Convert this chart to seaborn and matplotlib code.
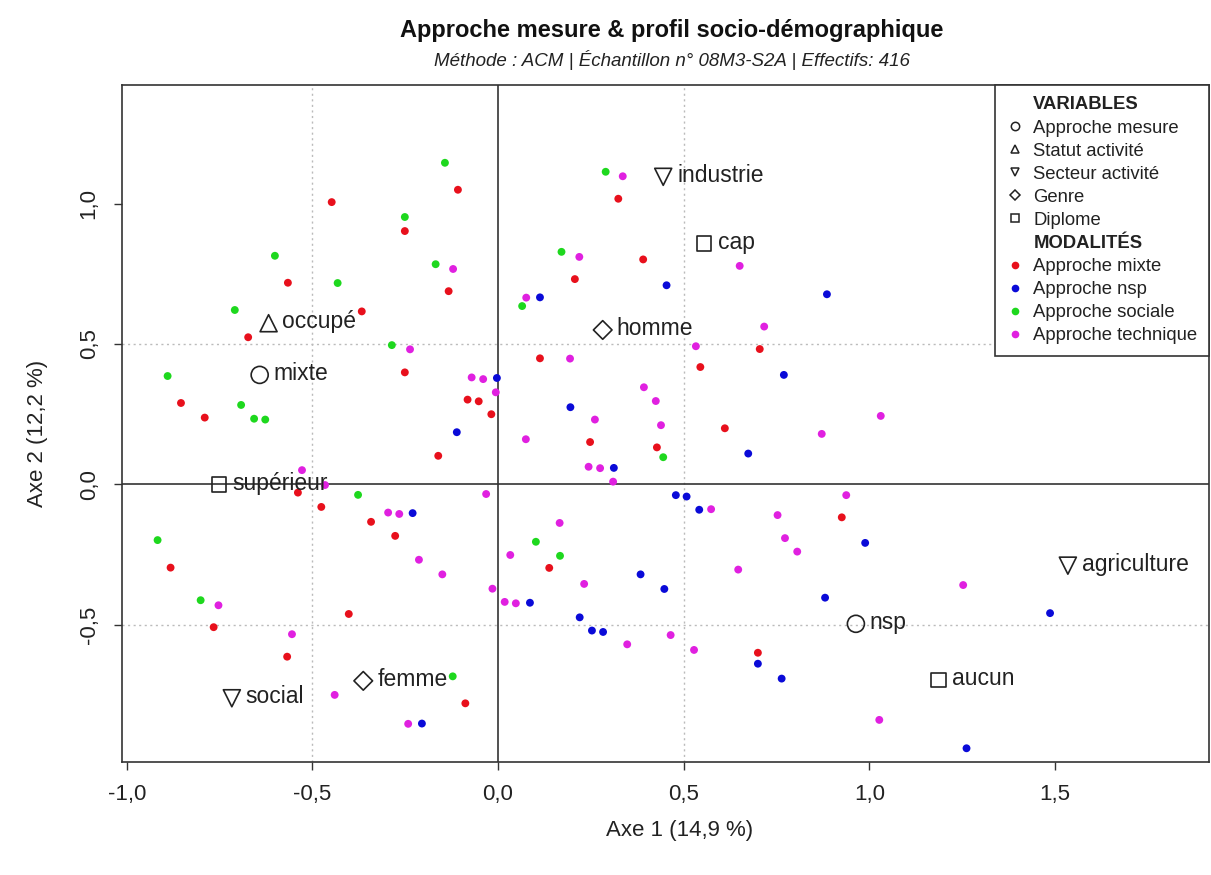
import numpy as np
import pandas as pd
import matplotlib
matplotlib.use("Agg")
import matplotlib.pyplot as plt
from matplotlib.lines import Line2D
import seaborn as sns

# ---------------- data ----------------
mixte_x = [-0.448, -0.566, -0.367, -0.108, -0.251, -0.133, 0.324, 0.391, 0.207, -0.673,
           -0.854, -0.790, -0.539, -0.476, -0.342, -0.277, -0.251, -0.082, -0.052, -0.018,
           -0.161, 0.113, 0.248, 0.428, 0.705, 0.545, 0.611, 0.926, -0.882, -0.766,
           -0.568, -0.402, 0.138, -0.088, 0.700]
mixte_y = [1.005, 0.718, 0.616, 1.049, 0.902, 0.688, 1.017, 0.801, 0.731, 0.524,
           0.290, 0.238, -0.029, -0.080, -0.133, -0.183, 0.399, 0.302, 0.296, 0.250,
           0.102, 0.449, 0.151, 0.132, 0.482, 0.418, 0.200, -0.117, -0.296, -0.508,
           -0.613, -0.461, -0.297, -0.779, -0.599]

nsp_x = [0.454, 0.113, 0.886, -0.003, -0.111, 0.195, 0.312, 0.479, -0.230, 0.770,
         0.674, 0.508, 0.542, 0.989, 0.384, 0.448, 0.086, 0.220, 0.253, 0.283,
         -0.205, 0.881, 0.700, 0.764, 1.487, 1.262]
nsp_y = [0.709, 0.666, 0.677, 0.379, 0.186, 0.275, 0.059, -0.038, -0.102, 0.390,
         0.110, -0.043, -0.090, -0.208, -0.320, -0.372, -0.421, -0.473, -0.520, -0.525,
         -0.851, -0.403, -0.638, -0.691, -0.458, -0.939]

sociale_x = [-0.143, -0.251, -0.601, -0.432, -0.709, -0.168, 0.290, 0.171, 0.065, -0.286,
             -0.890, -0.692, -0.657, -0.627, -0.377, -0.917, -0.801, 0.445, 0.102, 0.167,
             -0.122]
sociale_y = [1.145, 0.952, 0.814, 0.717, 0.621, 0.784, 1.113, 0.828, 0.635, 0.496,
             0.386, 0.283, 0.234, 0.231, -0.037, -0.198, -0.412, 0.097, -0.204, -0.254,
             -0.683]

tech_x = [0.336, -0.121, 0.219, 0.076, 0.651, -0.528, -0.466, -0.296, -0.266, -0.237,
          -0.071, -0.040, -0.006, 0.075, 0.194, 0.261, 0.244, 0.275, 0.310, 0.393,
          0.425, 0.439, -0.032, 0.166, 0.717, 0.533, 1.031, 0.872, 0.574, 0.938,
          0.753, 0.773, 0.806, 0.647, -0.753, -0.555, -0.440, -0.213, -0.150, -0.015,
          0.033, 0.232, 0.018, 0.048, 0.348, 0.465, -0.242, 0.528, 1.027, 1.253]
tech_y = [1.097, 0.767, 0.810, 0.665, 0.778, 0.051, -0.002, -0.100, -0.105, 0.481,
          0.381, 0.375, 0.328, 0.161, 0.448, 0.231, 0.063, 0.058, 0.010, 0.346,
          0.297, 0.211, -0.034, -0.137, 0.562, 0.492, 0.244, 0.180, -0.088, -0.038,
          -0.109, -0.191, -0.239, -0.303, -0.430, -0.533, -0.749, -0.268, -0.320, -0.371,
          -0.251, -0.354, -0.418, -0.423, -0.569, -0.536, -0.852, -0.589, -0.838, -0.358]

approches = ["Approche mixte", "Approche nsp", "Approche sociale", "Approche technique"]
approche_colors = ["#E8101C", "#0A0AD8", "#1ED81E", "#E020E0"]

mod_labels = ["mixte", "nsp", "occupé", "industrie", "social", "agriculture",
              "homme", "femme", "cap", "supérieur", "aucun"]
mod_vars = ["Approche mesure", "Approche mesure", "Statut activité",
            "Secteur activité", "Secteur activité", "Secteur activité",
            "Genre", "Genre", "Diplome", "Diplome", "Diplome"]
mod_x = [-0.642, 0.964, -0.618, 0.445, -0.717, 1.535, 0.282, -0.363, 0.555, -0.752, 1.186]
mod_y = [0.390, -0.496, 0.574, 1.095, -0.761, -0.289, 0.550, -0.699, 0.857, 0.0, -0.696]

variables = ["Approche mesure", "Statut activité", "Secteur activité", "Genre", "Diplome"]
var_markers = ["o", "^", "v", "D", "s"]

x_ticks = [-1.0, -0.5, 0.0, 0.5, 1.0, 1.5]
x_tick_labels = ["-1,0", "-0,5", "0,0", "0,5", "1,0", "1,5"]
y_ticks = [-0.5, 0.0, 0.5, 1.0]
y_tick_labels = ["-0,5", "0,0", "0,5", "1,0"]

title = "Approche mesure & profil socio-démographique"
subtitle = "Méthode : ACM | Échantillon n° 08M3-S2A | Effectifs: 416"
xlabel = "Axe 1 (14,9 %)"
ylabel = "Axe 2 (12,2 %)"

# ---------------- style ----------------
sns.set_theme(style="white")
plt.rcParams["font.family"] = ["Liberation Sans", "DejaVu Sans"]
plt.rcParams["axes.unicode_minus"] = False

fig = plt.figure(figsize=(12.11, 8.75), dpi=100)
ax = fig.add_axes([0.1007, 0.1291, 0.8976, 0.7738])

dark = "#333333"

# reference lines
for v in [-0.5, 0.5]:
    ax.axvline(v, color="#BBBBBB", lw=1.0, ls=(0, (1.5, 2.5)), zorder=1)
    ax.axhline(v, color="#BBBBBB", lw=1.0, ls=(0, (1.5, 2.5)), zorder=1)
ax.axvline(0, color=dark, lw=1.2, zorder=2)
ax.axhline(0, color=dark, lw=1.2, zorder=2)

# individual points
df = pd.DataFrame({
    "x": mixte_x + nsp_x + sociale_x + tech_x,
    "y": mixte_y + nsp_y + sociale_y + tech_y,
    "approche": ([approches[0]] * len(mixte_x) + [approches[1]] * len(nsp_x)
                 + [approches[2]] * len(sociale_x) + [approches[3]] * len(tech_x)),
})
sns.scatterplot(data=df, x="x", y="y", hue="approche",
                palette=dict(zip(approches, approche_colors)),
                s=32, edgecolor="none", linewidth=0, legend=False, ax=ax, zorder=3)

# modalities of the variables
mdf = pd.DataFrame({"x": mod_x, "y": mod_y, "var": mod_vars, "label": mod_labels})
for var, mk in zip(variables, var_markers):
    sub = mdf[mdf["var"] == var]
    size = 150 if mk in ("o", "^", "v") else 110
    if mk == "D":
        size = 90
    sns.scatterplot(data=sub, x="x", y="y", marker=mk, s=size, color=dark,
                    legend=False, ax=ax, zorder=4)
    coll = ax.collections[-1]
    coll.set_facecolor("none")
    coll.set_edgecolor("#222222")
    coll.set_linewidth(1.2)

for _, r in mdf.iterrows():
    ax.annotate(r["label"], (r["x"], r["y"]), xytext=(10, 1), textcoords="offset points",
                ha="left", va="center", fontsize=16.5, color="#222222", zorder=5)

# axes
ax.set_xlim(-1.013, 1.915)
ax.set_ylim(-0.988, 1.422)
ax.set_xticks(x_ticks)
ax.set_xticklabels(x_tick_labels)
ax.set_yticks(y_ticks)
ax.set_yticklabels(y_tick_labels, rotation=90, va="center")
ax.tick_params(axis="both", which="major", direction="out", length=6, width=1.0,
               color=dark, labelsize=16, labelcolor="#222222", pad=10,
               bottom=True, left=True)
for sp in ax.spines.values():
    sp.set_color(dark)
    sp.set_linewidth(1.2)
    sp.set_visible(True)
ax.set_xlabel(xlabel, fontsize=16, color="#222222")
ax.set_ylabel(ylabel, fontsize=16, color="#222222")
ax.xaxis.set_label_coords(0.513, -0.085)
ax.yaxis.set_label_coords(-0.068, 0.485)

# legend
blank = Line2D([], [], linestyle="none", marker=None)
handles = [blank]
labels = ["VARIABLES"]
for var, mk in zip(variables, var_markers):
    handles.append(Line2D([], [], linestyle="none", marker=mk, markersize=6 if mk != "D" else 5,
                          markerfacecolor="none", markeredgecolor="#222222", markeredgewidth=1.1))
    labels.append(var)
handles.append(blank)
labels.append("MODALITÉS")
for a, c in zip(approches, approche_colors):
    handles.append(Line2D([], [], linestyle="none", marker="o", markersize=5.5,
                          markerfacecolor=c, markeredgecolor="none"))
    labels.append(a)
leg = ax.legend(handles, labels, loc="upper right", bbox_to_anchor=(1.0, 1.0),
                borderaxespad=0.0, frameon=True, fancybox=False, framealpha=1.0,
                edgecolor=dark, fontsize=13.3, handlelength=0.9, handletextpad=0.55,
                labelspacing=0.33, borderpad=0.62)
leg.get_frame().set_linewidth(1.2)
leg.set_zorder(10)
for t in leg.get_texts():
    t.set_color("#222222")
    if t.get_text() in ("VARIABLES", "MODALITÉS"):
        t.set_fontweight("bold")

# titles
fig.text(0.555, 0.965, title, ha="center", va="center", fontsize=17,
         fontweight="bold", color="#111111")
fig.text(0.555, 0.931, subtitle, ha="center", va="center", fontsize=13.5,
         fontstyle="italic", color="#222222")

fig.savefig("out.png", dpi=100)
